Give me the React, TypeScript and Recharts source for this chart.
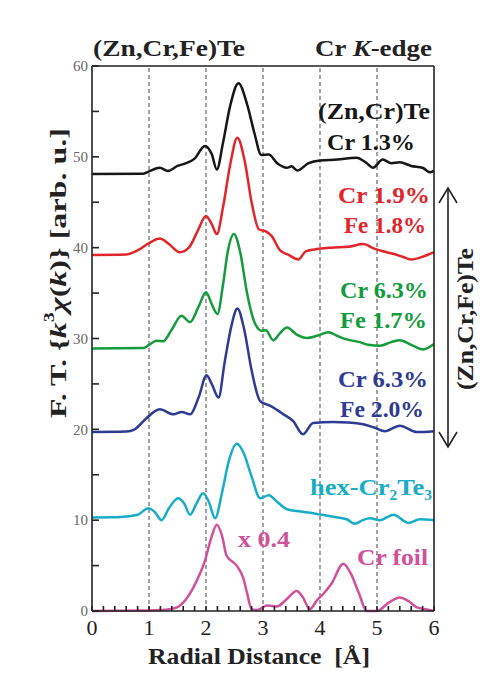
import React from 'react';
import { ComposedChart, Line, XAxis, YAxis, ReferenceLine } from 'recharts';

// radial distance (Å) and F.T. magnitude, one pair of arrays per spectrum
const rBlack = [0, 0.9, 1.0, 1.19, 1.33, 1.5, 1.65, 1.8, 1.98, 2.1, 2.19, 2.3, 2.42, 2.57, 2.72, 2.85, 2.97, 3.1, 3.25, 3.42, 3.5, 3.6, 3.8, 4.0, 4.3, 4.64, 4.8, 4.93, 5.1, 5.25, 5.4, 5.6, 5.8, 5.93, 6.0];
const fBlack = [48.1, 48.15, 48.4, 48.8, 48.45, 49.0, 49.3, 49.8, 51.2, 50.3, 48.6, 51.6, 55.5, 58.1, 55.8, 52.6, 50.2, 50.25, 49.3, 48.8, 48.95, 48.5, 49.3, 49.6, 49.7, 49.9, 49.4, 48.8, 49.7, 49.3, 49.4, 49.0, 48.8, 48.3, 48.5];

const rRed = [0, 0.6, 0.8, 1.0, 1.19, 1.35, 1.54, 1.7, 1.85, 2.0, 2.1, 2.19, 2.3, 2.42, 2.55, 2.68, 2.8, 2.93, 3.05, 3.15, 3.3, 3.45, 3.62, 3.75, 3.9, 4.2, 4.5, 4.76, 4.95, 5.1, 5.3, 5.45, 5.6, 5.8, 6.0];
const fRed = [39.2, 39.25, 39.7, 40.5, 41.0, 40.4, 39.5, 40.0, 41.8, 43.5, 42.6, 41.5, 44.5, 49.0, 52.1, 49.5, 45.0, 42.0, 41.8, 41.3, 39.7, 39.2, 38.7, 39.6, 39.8, 40.0, 40.1, 40.4, 39.9, 39.6, 39.3, 39.0, 38.7, 39.0, 39.5];

const rGreen = [0, 0.9, 1.0, 1.13, 1.25, 1.4, 1.57, 1.72, 1.87, 2.0, 2.1, 2.2, 2.3, 2.38, 2.49, 2.6, 2.72, 2.85, 2.98, 3.05, 3.18, 3.3, 3.42, 3.6, 3.77, 3.95, 4.15, 4.3, 4.47, 4.7, 4.85, 5.05, 5.25, 5.4, 5.6, 5.81, 6.0];
const fGreen = [28.9, 28.95, 29.3, 29.75, 29.7, 31.0, 32.5, 31.8, 33.5, 35.1, 33.8, 32.7, 36.0, 39.5, 41.5, 39.5, 35.0, 31.8, 30.85, 30.9, 29.8, 30.6, 31.2, 30.4, 30.05, 30.3, 30.7, 30.3, 29.9, 29.6, 29.3, 29.2, 29.6, 29.8, 29.3, 28.8, 29.4];

const rBlue = [0, 0.6, 0.75, 0.95, 1.19, 1.43, 1.57, 1.72, 1.87, 2.01, 2.1, 2.22, 2.33, 2.45, 2.55, 2.67, 2.8, 2.95, 3.12, 3.36, 3.53, 3.7, 3.88, 4.23, 4.5, 4.76, 4.95, 5.14, 5.4, 5.7, 6.0];
const fBlue = [19.7, 19.75, 20.0, 21.2, 22.2, 21.65, 21.9, 21.65, 23.5, 25.95, 25.0, 23.5, 27.5, 31.5, 33.3, 31.0, 26.5, 23.1, 22.6, 21.65, 20.9, 19.45, 20.7, 20.8, 20.75, 20.55, 20.2, 19.8, 20.4, 19.7, 19.8];

const rCyan = [0, 0.5, 0.8, 0.99, 1.1, 1.22, 1.35, 1.51, 1.62, 1.72, 1.83, 1.95, 2.05, 2.16, 2.28, 2.4, 2.54, 2.66, 2.8, 2.95, 3.1, 3.25, 3.42, 3.6, 3.88, 4.2, 4.47, 4.61, 4.75, 4.88, 5.05, 5.29, 5.55, 5.75, 6.0];
const fCyan = [10.3, 10.35, 10.6, 11.3, 10.9, 10.0, 11.3, 12.4, 11.8, 10.6, 11.8, 12.95, 12.0, 10.2, 13.0, 16.5, 18.4, 17.4, 14.8, 12.4, 12.75, 12.0, 11.2, 11.0, 10.75, 10.4, 10.1, 9.6, 10.0, 10.2, 10.0, 10.6, 9.7, 10.1, 10.0];

const rFoil = [0, 1.0, 1.19, 1.35, 1.49, 1.65, 1.78, 1.9, 1.98, 2.08, 2.19, 2.28, 2.36, 2.45, 2.51, 2.58, 2.65, 2.72, 2.8, 2.9, 3.07, 3.24, 3.4, 3.59, 3.7, 3.82, 3.95, 4.06, 4.2, 4.41, 4.55, 4.68, 4.82, 5.0, 5.2, 5.4, 5.55, 5.7, 5.85, 6.0];
const fFoil = [0, 0.05, 0.1, 0.2, 0.4, 1.3, 2.6, 4.2, 5.5, 7.8, 9.5, 8.3, 6.1, 5.5, 5.2, 4.6, 3.7, 2.0, 0.2, 0.1, 0.6, 0.5, 1.2, 2.2, 1.5, 0.2, 1.2, 1.9, 3.0, 5.2, 4.0, 2.0, 0.0, 0.0, 0.9, 1.5, 1.1, 0.4, 0.2, 0.0];

const xTicks = [0, 0.2, 0.4, 0.6, 0.8, 1, 1.2, 1.4, 1.6, 1.8, 2, 2.2, 2.4, 2.6, 2.8, 3, 3.2, 3.4, 3.6, 3.8, 4, 4.2, 4.4, 4.6, 4.8, 5, 5.2, 5.4, 5.6, 5.8, 6];
const yTicks = [0, 5, 10, 15, 20, 25, 30, 35, 40, 45, 50, 55, 60];
const gridX = [1, 2, 3, 4, 5];

const toPoints = (rs: number[], fs: number[]) => rs.map((r, i) => ({ r, v: fs[i] }));

const series = [
  { name: 'ZnCrTe', data: toPoints(rBlack, fBlack), color: '#161616' },
  { name: 'CrFe18', data: toPoints(rRed, fRed), color: '#e2252b' },
  { name: 'CrFe17', data: toPoints(rGreen, fGreen), color: '#139b3c' },
  { name: 'CrFe20', data: toPoints(rBlue, fBlue), color: '#2f3a92' },
  { name: 'hexCr2Te3', data: toPoints(rCyan, fCyan), color: '#17adc6' },
  { name: 'CrFoil', data: toPoints(rFoil, fFoil), color: '#d0519b' },
];

const SERIF = "'Liberation Serif', 'Times New Roman', serif";
const FRAME = '#222';
const SQUEEZE = 'spacingAndGlyphs';

export default function App() {
  const labelStyle = { fontFamily: SERIF, fontWeight: 700, fontSize: 24 };
  return (
    <div style={{ position: 'absolute', left: 0, top: 0, width: 498, height: 682, background: '#fff' }}>
      <ComposedChart
        width={498}
        height={682}
        margin={{ top: 65, right: 63, left: 52, bottom: 31 }}
      >
        <XAxis
          dataKey="r"
          type="number"
          domain={[0, 6]}
          ticks={xTicks}
          allowDataOverflow
          height={40}
          tickSize={-5}
          tickMargin={13}
          tickFormatter={(v: number) => (Math.abs(v - Math.round(v)) < 1e-6 ? String(Math.round(v)) : '')}
          tick={{ fontFamily: SERIF, fontSize: 22, fill: '#222' }}
          stroke={FRAME}
          strokeWidth={1.6}
        />
        <XAxis
          xAxisId="top"
          orientation="top"
          type="number"
          domain={[0, 6]}
          ticks={xTicks}
          height={1}
          tickSize={-5}
          tick={false}
          stroke={FRAME}
          strokeWidth={1.6}
        />
        <YAxis
          type="number"
          domain={[0, 60]}
          ticks={yTicks}
          width={40}
          tickSize={-7}
          tickMargin={11}
          tickFormatter={(v: number) => (v % 10 === 0 ? String(v) : '')}
          tick={{ fontFamily: SERIF, fontSize: 15, fill: '#666' }}
          stroke={FRAME}
          strokeWidth={1.6}
        />
        <YAxis
          yAxisId="right"
          orientation="right"
          type="number"
          domain={[0, 60]}
          ticks={yTicks}
          width={1}
          tickSize={-7}
          tick={false}
          stroke={FRAME}
          strokeWidth={1.6}
        />
        {gridX.map((g) => (
          <ReferenceLine key={g} x={g} stroke="#666" strokeDasharray="4 3" strokeWidth={1.2} />
        ))}
        {series.map((s) => (
          <Line
            key={s.name}
            data={s.data}
            dataKey="v"
            type="monotone"
            stroke={s.color}
            strokeWidth={2.5}
            dot={false}
            activeDot={false}
            isAnimationActive={false}
          />
        ))}
      </ComposedChart>

      <svg
        width={498}
        height={682}
        style={{ position: 'absolute', left: 0, top: 0, pointerEvents: 'none' }}
      >
        <g style={labelStyle}>
          <text x={93} y={56} fill="#222" textLength={152} lengthAdjust={SQUEEZE}>(Zn,Cr,Fe)Te</text>
          <text x={315} y={56} fill="#222" textLength={117} lengthAdjust={SQUEEZE}>
            Cr <tspan fontStyle="italic">K</tspan>-edge
          </text>

          <text x={318} y={119} fill="#161616" textLength={112} lengthAdjust={SQUEEZE}>(Zn,Cr)Te</text>
          <text x={327} y={150} fill="#161616" textLength={88} lengthAdjust={SQUEEZE}>Cr 1.3%</text>

          <text x={338} y={203} fill="#e2252b" textLength={92} lengthAdjust={SQUEEZE}>Cr 1.9%</text>
          <text x={344} y={233} fill="#e2252b" textLength={82} lengthAdjust={SQUEEZE}>Fe 1.8%</text>

          <text x={340} y={298} fill="#139b3c" textLength={88} lengthAdjust={SQUEEZE}>Cr 6.3%</text>
          <text x={340} y={328} fill="#139b3c" textLength={87} lengthAdjust={SQUEEZE}>Fe 1.7%</text>

          <text x={338} y={387} fill="#2f3a92" textLength={90} lengthAdjust={SQUEEZE}>Cr 6.3%</text>
          <text x={340} y={417} fill="#2f3a92" textLength={84} lengthAdjust={SQUEEZE}>Fe 2.0%</text>

          <text x={310} y={495} fill="#17adc6" textLength={122} lengthAdjust={SQUEEZE}>
            hex-Cr<tspan fontSize={14} dy={5}>2</tspan>
            <tspan dy={-5}>Te</tspan>
            <tspan fontSize={14} dy={5}>3</tspan>
          </text>

          <text x={238} y={547} fill="#d0519b" textLength={52} lengthAdjust={SQUEEZE}>x 0.4</text>
          <text x={357} y={565} fill="#d0519b" textLength={71} lengthAdjust={SQUEEZE}>Cr foil</text>

          <text
            x={467}
            y={319}
            fill="#222"
            textAnchor="middle"
            dominantBaseline="middle"
            textLength={142}
            lengthAdjust={SQUEEZE}
            transform="rotate(-90 467 319)"
          >
            (Zn,Cr,Fe)Te
          </text>

          <text
            x={60}
            y={273}
            fill="#222"
            textAnchor="middle"
            dominantBaseline="middle"
            textLength={290}
            lengthAdjust={SQUEEZE}
            transform="rotate(-90 60 273)"
          >
            F. T. {'{'}
            <tspan fontStyle="italic">k</tspan>
            <tspan fontSize={15} dy={-9}>3</tspan>
            <tspan dy={9} fontStyle="italic">χ</tspan>(<tspan fontStyle="italic">k</tspan>){'}  [arb. u.]'}
          </text>

          <text
            x={259}
            y={664}
            fill="#222"
            fontSize={23}
            textAnchor="middle"
            textLength={222}
            lengthAdjust={SQUEEZE}
            style={{ whiteSpace: 'pre' }}
          >
            {'Radial Distance  [Å]'}
          </text>
        </g>

        <g stroke="#222" strokeWidth={1.6} fill="none">
          <line x1={448} y1={188} x2={448} y2={447} />
          <polyline points="439,203 448,188 457,203" />
          <polyline points="439,432 448,447 457,432" />
        </g>
      </svg>
    </div>
  );
}
